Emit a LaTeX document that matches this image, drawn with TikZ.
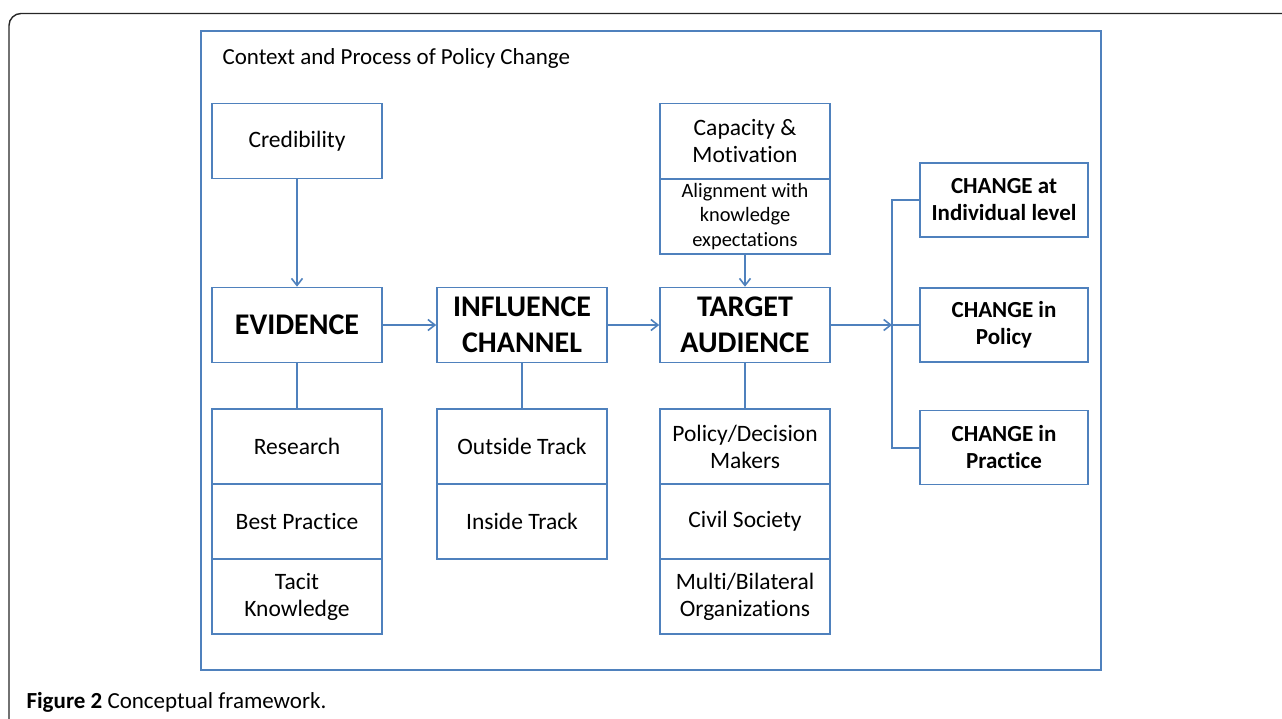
\documentclass[tikz,border=0pt]{standalone}
\usepackage{fontspec}
\setmainfont{Carlito}[Ligatures={NoCommon}]
\usetikzlibrary{arrows.meta,calc}
\definecolor{ablue}{RGB}{79,129,189}
\begin{document}
\begin{tikzpicture}[x=1pt,y=-1pt,
  box/.style={draw=ablue,line width=1.6pt,minimum width=170pt,minimum height=75pt,inner sep=2pt,align=center,font=\fontsize{23.5}{27}\selectfont},
  bigbox/.style={box,font=\fontsize{30}{36}\selectfont\bfseries},
  chbox/.style={box,minimum width=168pt,minimum height=74pt,font=\fontsize{23}{27}\selectfont\bfseries},
  smallbox/.style={box,font=\fontsize{20.4}{24.5}\selectfont},
  conn/.style={draw=ablue,line width=2pt},
  arr/.style={conn,-{Straight Barb[length=7pt,width=11pt,line width=1.6pt]}}]
\useasboundingbox (0,0) rectangle (1282,718);
% outer frame
\draw[line width=1.4pt,color=black!85,rounded corners=12pt] (9,760) -- (9,13.5) -- (1300,13.5);
% context box
\node[draw=ablue,line width=1.6pt,minimum width=900pt,minimum height=639pt,inner sep=0pt] (ctx) at (651,350.5) {};
\node[anchor=west,font=\fontsize{23}{27}\selectfont] (title) at (219,58) {Context and Process of Policy Change};
% column 1
\node[box] (cred) at (297,141) {Credibility};
\node[bigbox] (evid) at (297,325) {EVIDENCE};
\node[box] (res) at (297,446.5) {Research};
\node[box] (best) at (297,521.5) {Best Practice};
\node[box] (tacit) at (297,596.5) {Tacit\\Knowledge};
% column 2
\node[bigbox] (infl) at (522,325) {INFLUENCE\\CHANNEL};
\node[box] (out) at (522,446.5) {Outside Track};
\node[box] (ins) at (522,521.5) {Inside Track};
% column 3
\node[box] (cap) at (745,141) {Capacity \&\\Motivation};
\node[smallbox] (align) at (745,216.5) {Alignment with\\knowledge\\expectations};
\node[bigbox] (targ) at (745,325) {TARGET\\AUDIENCE};
\node[box] (pdm) at (745,446.5) {Policy/Decision\\Makers};
\node[box] (civ) at (745,521.5) {Civil Society};
\node[box] (multi) at (745,596.5) {Multi/Bilateral\\Organizations};
% column 4
\node[chbox] (ind) at (1004,200) {CHANGE at\\Individual level};
\node[chbox] (pol) at (1004,325) {CHANGE in\\Policy};
\node[chbox] (prac) at (1004,447.5) {CHANGE in\\Practice};
\coordinate (br) at (892,325);
% connectors
\draw[arr] (cred) -- (evid);
\draw[arr] (align) -- (targ);
\draw[arr] (evid) -- (infl);
\draw[arr] (infl) -- (targ);
\draw[arr] (targ.east) -- (br);
\draw[conn] (evid) -- (res);
\draw[conn] (infl) -- (out);
\draw[conn] (targ) -- (pdm);
\draw[conn] (ind.west) -| (br) |- (prac.west);
\draw[conn] (br) -- (pol.west);
% caption
\node[anchor=west,font=\fontsize{23}{27}\selectfont] (cap2) at (23,702) {\textbf{Figure 2} Conceptual framework.};
\end{tikzpicture}
\end{document}
